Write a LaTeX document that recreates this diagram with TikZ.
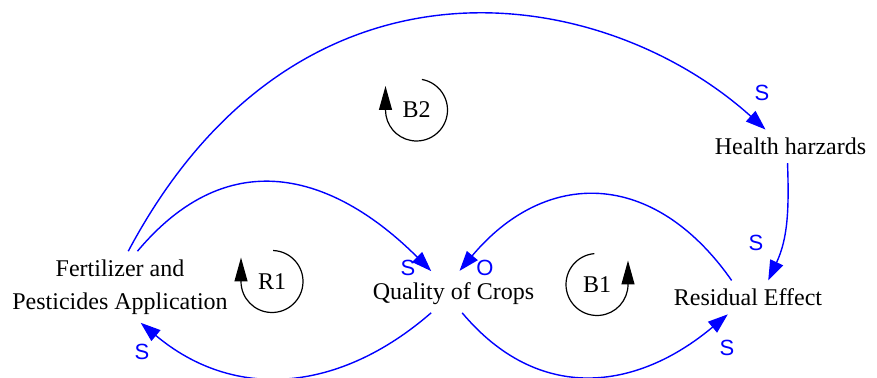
\documentclass[tikz,border=0pt]{standalone}
\usepackage{fontspec}
\setmainfont{Liberation Serif}
\setsansfont{Liberation Sans}
\usepackage{tikz}
\usetikzlibrary{arrows.meta}

\begin{document}
\begin{tikzpicture}[
      x=0.5pt, y=0.5pt,
      var/.style={font=\fontsize{12}{16.5}\selectfont, align=center, inner sep=4pt},
      nesso/.style={blue, line width=0.7pt, -{Triangle[length=10pt,width=7pt]}},
      pol/.style={blue, font=\sffamily\fontsize{11}{13}\selectfont, inner sep=0pt},
      ciclo/.style={line width=0.6pt, -{Triangle[length=12pt,width=6.5pt]}},
      sigla/.style={font=\fontsize{12}{14}\selectfont, inner sep=1pt}
    ]
    \useasboundingbox (0,0) rectangle (877,378);

    % Variabili
    \node[var] (fert) at (120,91) {Fertilizer and\\Pesticides Application};
    \node[var] (qual) at (453.5,84.6) {Quality of Crops};
    \node[var] (resid) at (748,80.6) {Residual Effect};
    \node[var] (health) at (790.5,231.6) {Health harzards};

    % Nessi causali
    \draw[nesso, shorten >=2pt] (fert.64) .. controls +(50:155) and +(135:125) .. (qual.135);
    \draw[nesso] (qual.221) .. controls +(221:122) and +(-40:122) .. (fert.-60);
    \draw[nesso] (qual.-66) .. controls +(-50:119) and +(220:119) .. (resid.220);
    \draw[nesso, shorten >=2pt] (resid.134) .. controls +(125:137) and +(50:137) .. (qual.80);
    \draw[nesso] (fert.77) .. controls +(62:360) and +(138:220) .. (health.146);
    \draw[nesso] (health.260) to[out=-88, in=65] (resid.40);

    % Polarita
    \node[pol] (p1) at (408,110) {S};
    \node[pol] (p2) at (485,110) {O};
    \node[pol] (p3) at (142,26) {S};
    \node[pol] (p4) at (727,30) {S};
    \node[pol] (p5) at (762,285) {S};
    \node[pol] (p6) at (756,135) {S};

    % Cicli
    \node[sigla] (r1) at (272,96.5) {R1};
    \draw[ciclo] (r1.center) ++(88:31) arc[start angle=88, end angle=-180, radius=31] -- ++(0,24);
    \node[sigla] (b2) at (416.5,268) {B2};
    \draw[ciclo] (b2.center) ++(80:31) arc[start angle=80, end angle=-180, radius=31] -- ++(0,24);
    \node[sigla] (b1) at (597,93.5) {B1};
    \draw[ciclo] (b1.center) ++(95:31) arc[start angle=95, end angle=360, radius=31] -- ++(0,24);
\end{tikzpicture}
\end{document}
